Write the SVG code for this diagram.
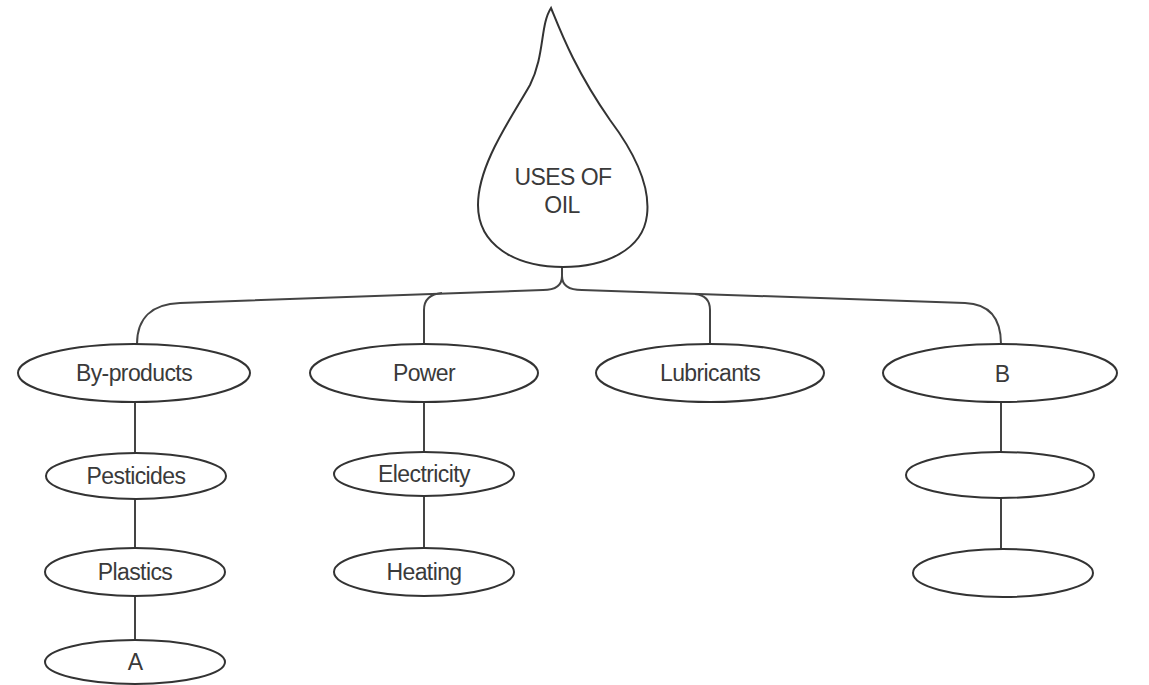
<svg xmlns="http://www.w3.org/2000/svg" width="1149" height="685" viewBox="0 0 1149 685">
<style>
.shape{fill:#fff;stroke:#333;stroke-width:2}
.conn{fill:none;stroke:#444;stroke-width:2}
.lbl{font-family:"Liberation Sans",Arial,sans-serif;font-size:23px;fill:#3a3a3a;text-anchor:middle;letter-spacing:-0.6px}
</style>
<rect width="1149" height="685" fill="#fff"/>
<g id="connectors">
<path class="conn" d="M562 265 L562 276 C562 286 555 290 543 290 L180 303 C152 304 137 318 137 344"/>
<path class="conn" d="M562 276 C562 286 569 290 582 290 L965 303 C990 304 1001 318 1001 344"/>
<path class="conn" d="M442 293 C430 294 424 300 424 310 L424 344"/>
<path class="conn" d="M695 294 C705 295 710 300 710 310 L710 344"/>
<path class="conn" d="M135 402 L135 453 M135 499 L135 548 M135 596 L135 640"/>
<path class="conn" d="M424 402 L424 452 M424 496 L424 548"/>
<path class="conn" d="M1001 402 L1001 452 M1001 498 L1001 549"/>
</g>
<g id="oil">
<path class="shape" d="M551 8 C560 30 575 70 610 120 C640 160 650 190 647 215 C643 250 605 267 563 267 C515 267 478 245 478 205 C478 165 510 120 530 85 C545 55 540 25 551 8 Z"/>
<text class="lbl" x="563" y="185">USES OF</text>
<text class="lbl" x="562" y="213">OIL</text>
</g>
<g id="byproducts"><ellipse class="shape" cx="134" cy="373" rx="116" ry="29"/><text class="lbl" x="134" y="381">By-products</text></g>
<g id="power"><ellipse class="shape" cx="424" cy="373" rx="114" ry="29"/><text class="lbl" x="424" y="381">Power</text></g>
<g id="lubricants"><ellipse class="shape" cx="710" cy="373" rx="114" ry="29"/><text class="lbl" x="710" y="381">Lubricants</text></g>
<g id="b"><ellipse class="shape" cx="1000" cy="373" rx="117" ry="29"/><text class="lbl" x="1002" y="382">B</text></g>
<g id="pesticides"><ellipse class="shape" cx="136" cy="476" rx="90" ry="23"/><text class="lbl" x="136" y="484">Pesticides</text></g>
<g id="plastics"><ellipse class="shape" cx="135" cy="572" rx="90" ry="24"/><text class="lbl" x="135" y="580">Plastics</text></g>
<g id="a"><ellipse class="shape" cx="135" cy="662" rx="90" ry="22"/><text class="lbl" x="135" y="670">A</text></g>
<g id="electricity"><ellipse class="shape" cx="424" cy="474" rx="90" ry="22"/><text class="lbl" x="424" y="482">Electricity</text></g>
<g id="heating"><ellipse class="shape" cx="424" cy="572" rx="90" ry="24"/><text class="lbl" x="424" y="580">Heating</text></g>
<g id="b1"><ellipse class="shape" cx="1000" cy="475" rx="94" ry="23"/></g>
<g id="b2"><ellipse class="shape" cx="1003" cy="573" rx="90" ry="24"/></g>
</svg>
